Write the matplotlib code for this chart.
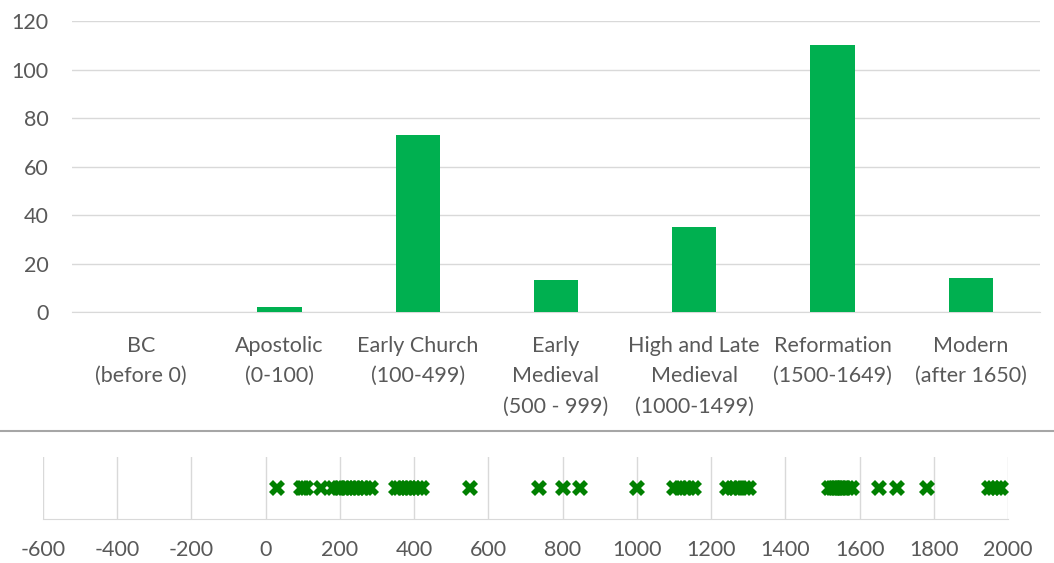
import numpy as np
import matplotlib
matplotlib.use("Agg")
from matplotlib import pyplot as plt
from matplotlib.lines import Line2D

plt.rcParams['font.family'] = ['Lato', 'DejaVu Sans']
plt.rcParams['axes.unicode_minus'] = False

# category counts (top chart)
periods = ['BC\n(before 0)', 'Apostolic\n(0-100)', 'Early Church\n(100-499)',
           'Early\nMedieval\n(500 - 999)', 'High and Late\nMedieval\n(1000-1499)',
           'Reformation\n(1500-1649)', 'Modern\n(after 1650)']
counts = [0, 2, 73, 13, 35, 110, 14]

# individual dates (bottom strip)
years = [30, 95, 100, 108,
         150, 180, 195, 200, 210, 220, 230, 240, 250, 260, 270, 283,
         351, 360, 370, 380, 390, 400, 410, 421,
         550, 736, 800, 847, 999,
         1101, 1115, 1130, 1140, 1154,
         1244, 1255, 1265, 1275, 1290, 1302,
         1518, 1525, 1530, 1535, 1540, 1545, 1550, 1555, 1560, 1570, 1580,
         1652, 1701, 1782,
         1948, 1960, 1970, 1982]

grid_c = '#d9d9d9'
txt_c = '#595959'
fs = 15.5

fig = plt.figure(figsize=(10.54, 5.63), dpi=100)

# top bar chart
ax = fig.add_axes([0.0683, 0.4458, 0.9184, 0.5169])
x = np.arange(len(periods))
ax.bar(x, counts, width=0.32, color='#00B050', zorder=3)
ax.set_xlim(-0.5, len(periods) - 0.5)
ax.set_ylim(0, 120)
ax.set_yticks(range(0, 121, 20))
ax.set_xticks(x)
ax.set_xticklabels(periods, fontsize=fs, color=txt_c, linespacing=1.65)
ax.tick_params(axis='y', labelsize=fs, labelcolor=txt_c, length=0, pad=17)
ax.tick_params(axis='x', length=0, pad=17)
ax.grid(axis='y', color=grid_c, lw=1, zorder=0)
for s in ['top', 'right', 'left']:
    ax.spines[s].set_visible(False)
ax.spines['bottom'].set_color(grid_c)

# separator
fig.add_artist(Line2D([0, 1], [0.2345, 0.2345], color='#a6a6a6', lw=1.5,
                      transform=fig.transFigure))

# bottom date strip
ax2 = fig.add_axes([0.0408, 0.0782, 0.9156, 0.1101])
ax2.plot(years, [0.5] * len(years), ls='none', marker='X', ms=11,
         color='#008000', mew=0, zorder=3)
ax2.set_xlim(-600, 2000)
ax2.set_ylim(0, 1)
ax2.set_xticks(range(-600, 2001, 200))
ax2.set_yticks([])
ax2.tick_params(axis='x', labelsize=fs, labelcolor=txt_c, length=0, pad=15)
ax2.grid(axis='x', color=grid_c, lw=1, zorder=0)
for s in ['top', 'right', 'left']:
    ax2.spines[s].set_visible(False)
ax2.spines['bottom'].set_color(grid_c)

fig.savefig('out.png', dpi=100)
